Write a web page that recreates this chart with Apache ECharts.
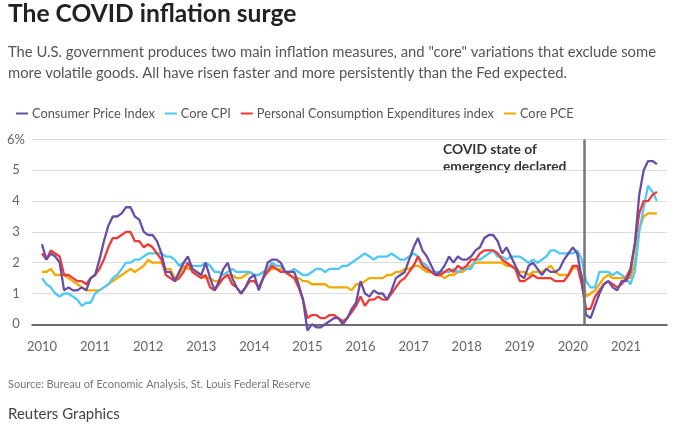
<!DOCTYPE html>
<html>
<head>
<meta charset="utf-8">
<script src="https://cdn.jsdelivr.net/npm/echarts@6/dist/echarts.min.js"></script>
<style>
  html, body { margin: 0; padding: 0; background: #fff; }
  #chart { width: 688px; height: 427px; }
</style>
</head>
<body>
<div id="chart"></div>
<script>
// monthly year-over-year % change, Jan 2010 .. Aug 2021
const startYear = 2010;
const yearTicks = [2010, 2011, 2012, 2013, 2014, 2015, 2016, 2017, 2018, 2019, 2020, 2021];
const yTicks = [0, 1, 2, 3, 4, 5, 6];
const covidMonth = 2020 + 2.5 / 12; // mid March 2020

const cpi = [
  2.6, 2.1, 2.3, 2.2, 2.0, 1.1, 1.2, 1.1, 1.1, 1.2, 1.1, 1.5,
  1.6, 2.1, 2.7, 3.2, 3.5, 3.5, 3.6, 3.8, 3.8, 3.5, 3.4, 3.0,
  2.9, 2.9, 2.7, 2.3, 1.7, 1.7, 1.4, 1.7, 2.0, 2.2, 1.8, 1.7,
  1.6, 2.0, 1.5, 1.1, 1.4, 1.8, 2.0, 1.5, 1.2, 1.0, 1.2, 1.5,
  1.6, 1.1, 1.5, 2.0, 2.1, 2.1, 2.0, 1.7, 1.7, 1.7, 1.3, 0.8,
  -0.2, 0.0, -0.1, -0.1, 0.0, 0.1, 0.2, 0.2, 0.0, 0.2, 0.5, 0.7,
  1.4, 1.0, 0.9, 1.1, 1.0, 1.0, 0.8, 1.1, 1.5, 1.6, 1.7, 2.1,
  2.5, 2.8, 2.4, 2.2, 1.9, 1.6, 1.7, 1.9, 2.2, 2.0, 2.2, 2.1,
  2.1, 2.2, 2.4, 2.5, 2.8, 2.9, 2.9, 2.7, 2.3, 2.5, 2.2, 1.9,
  1.6, 1.5, 1.9, 2.0, 1.8, 1.6, 1.8, 1.7, 1.7, 1.8, 2.1, 2.3,
  2.5, 2.3, 1.5, 0.3, 0.2, 0.6, 1.0, 1.3, 1.4, 1.2, 1.1, 1.4,
  1.4, 1.7, 2.6, 4.2, 5.0, 5.3, 5.3, 5.2
];
const coreCpi = [
  1.5, 1.3, 1.2, 1.0, 0.9, 1.0, 1.0, 0.9, 0.8, 0.6, 0.7, 0.7,
  1.0, 1.1, 1.2, 1.3, 1.5, 1.6, 1.8, 2.0, 2.0, 2.1, 2.1, 2.2,
  2.3, 2.3, 2.3, 2.3, 2.2, 2.2, 2.1, 1.9, 2.0, 2.0, 1.9, 1.9,
  1.9, 2.0, 1.9, 1.7, 1.7, 1.6, 1.7, 1.8, 1.7, 1.7, 1.7, 1.7,
  1.6, 1.6, 1.7, 1.8, 2.0, 1.9, 1.9, 1.7, 1.7, 1.8, 1.7, 1.6,
  1.6, 1.7, 1.8, 1.8, 1.7, 1.8, 1.8, 1.8, 1.9, 1.9, 2.0, 2.1,
  2.2, 2.3, 2.2, 2.1, 2.2, 2.2, 2.2, 2.3, 2.2, 2.1, 2.1, 2.2,
  2.3, 2.2, 2.0, 1.9, 1.7, 1.7, 1.7, 1.7, 1.7, 1.8, 1.7, 1.8,
  1.8, 1.8, 2.1, 2.1, 2.2, 2.3, 2.4, 2.2, 2.2, 2.1, 2.2, 2.2,
  2.2, 2.1, 2.0, 2.1, 2.0, 2.1, 2.2, 2.4, 2.4, 2.3, 2.3, 2.3,
  2.3, 2.4, 2.1, 1.4, 1.2, 1.2, 1.7, 1.7, 1.7, 1.6, 1.7, 1.6,
  1.5, 1.3, 1.7, 3.0, 3.8, 4.5, 4.3, 4.0
];
const pce = [
  2.3, 2.1, 2.4, 2.3, 2.2, 1.6, 1.6, 1.5, 1.4, 1.4, 1.3, 1.5,
  1.6, 1.8, 2.1, 2.5, 2.8, 2.8, 2.9, 3.0, 3.0, 2.7, 2.7, 2.5,
  2.6, 2.5, 2.3, 2.1, 1.6, 1.5, 1.4, 1.5, 1.7, 2.0, 1.7, 1.6,
  1.5, 1.6, 1.2, 1.1, 1.3, 1.5, 1.6, 1.3, 1.2, 1.0, 1.2, 1.4,
  1.4, 1.2, 1.5, 1.7, 1.9, 1.8, 1.7, 1.7, 1.6, 1.5, 1.2, 0.8,
  0.2, 0.3, 0.3, 0.2, 0.2, 0.3, 0.3, 0.2, 0.1, 0.2, 0.4, 0.6,
  0.9, 0.6, 0.8, 0.8, 0.9, 0.8, 0.8, 1.0, 1.2, 1.4, 1.5, 1.7,
  1.9, 2.2, 1.9, 1.8, 1.7, 1.6, 1.6, 1.7, 1.8, 1.7, 1.9, 1.8,
  1.9, 2.1, 2.1, 2.3, 2.4, 2.4, 2.4, 2.3, 2.1, 2.0, 1.9, 1.8,
  1.4, 1.4, 1.5, 1.6, 1.5, 1.5, 1.5, 1.5, 1.4, 1.4, 1.4, 1.6,
  1.9, 1.9, 1.3, 0.5, 0.5, 0.9, 1.1, 1.3, 1.4, 1.3, 1.2, 1.3,
  1.5, 1.8, 2.6, 3.6, 4.0, 4.0, 4.2, 4.3
];
const corePce = [
  1.7, 1.7, 1.8, 1.6, 1.6, 1.6, 1.5, 1.4, 1.3, 1.2, 1.1, 1.1,
  1.1, 1.1, 1.2, 1.3, 1.4, 1.5, 1.6, 1.7, 1.8, 1.7, 1.8, 1.9,
  2.1, 2.0, 2.0, 2.0, 1.8, 1.8, 1.5, 1.6, 1.9, 1.8, 1.8, 1.7,
  1.6, 1.5, 1.5, 1.4, 1.4, 1.5, 1.6, 1.6, 1.5, 1.5, 1.6, 1.7,
  1.6, 1.6, 1.7, 1.7, 1.8, 1.8, 1.8, 1.7, 1.6, 1.5, 1.5, 1.4,
  1.4, 1.3, 1.3, 1.3, 1.3, 1.2, 1.2, 1.2, 1.2, 1.2, 1.1, 1.3,
  1.3, 1.4, 1.5, 1.5, 1.5, 1.5, 1.6, 1.6, 1.7, 1.7, 1.8, 1.8,
  1.9, 1.9, 1.8, 1.7, 1.7, 1.6, 1.6, 1.5, 1.6, 1.6, 1.7, 1.7,
  1.8, 1.9, 2.0, 2.0, 2.0, 2.0, 2.0, 2.0, 2.0, 1.9, 1.9, 1.8,
  1.7, 1.7, 1.6, 1.7, 1.7, 1.7, 1.8, 1.9, 1.7, 1.6, 1.6, 1.6,
  1.8, 1.9, 1.6, 0.9, 1.0, 1.1, 1.3, 1.5, 1.6, 1.5, 1.5, 1.5,
  1.5, 1.5, 2.0, 3.1, 3.5, 3.6, 3.6, 3.6
];

const FONT = 'Lato';

function toPairs(values) {
  return values.map((v, i) => [startYear + i / 12, v]);
}

function lineSeries(name, values, color, extra) {
  return Object.assign({
    name: name,
    type: 'line',
    data: toPairs(values),
    showSymbol: false,
    clip: false,
    lineStyle: { color: color, width: 2.3 },
    itemStyle: { color: color },
    emphasis: { disabled: true }
  }, extra || {});
}

const chart = echarts.init(document.getElementById('chart'));
chart.setOption({
  animation: false,
  textStyle: { fontFamily: FONT },
  grid: { left: 32, right: 21, top: 139.5, bottom: 102.7 },
  legend: {
    left: 11,
    top: 102,
    icon: 'rect',
    itemWidth: 12,
    itemHeight: 2,
    itemGap: 10,
    textStyle: { fontFamily: FONT, fontSize: 12.8, color: '#555', padding: [0, 0, 0, -1] },
    data: ['Consumer Price Index', 'Core CPI', 'Personal Consumption Expenditures index', 'Core PCE']
  },
  xAxis: {
    type: 'value',
    min: 2009.812,
    max: 2021.773,
    axisLine: { show: true, lineStyle: { color: '#444', width: 1.5 } },
    axisTick: { show: false },
    splitLine: { show: false },
    axisLabel: {
      customValues: yearTicks,
      formatter: v => String(Math.round(v)),
      color: '#666',
      fontSize: 13,
      margin: 16
    }
  },
  yAxis: {
    type: 'value',
    min: 0,
    max: 6,
    interval: 1,
    axisLine: { show: false },
    axisTick: { show: false },
    splitLine: { lineStyle: { color: '#ddd', width: 1.2 } },
    axisLabel: {
      formatter: v => (v === yTicks[yTicks.length - 1] ? v + '%' : String(v)),
      color: '#666',
      fontSize: 13,
      align: 'center',
      margin: 16
    }
  },
  series: [
    lineSeries('Core PCE', corePce, '#f5a800'),
    lineSeries('Core CPI', coreCpi, '#4fc8f5'),
    lineSeries('Personal Consumption Expenditures index', pce, '#f03a35'),
    lineSeries('Consumer Price Index', cpi, '#6a4ea6', {
      markLine: {
        silent: true,
        symbol: 'none',
        label: { show: false },
        lineStyle: { color: '#777', width: 2.5, type: 'solid' },
        data: [{ xAxis: covidMonth }]
      }
    })
  ],
  graphic: [
    {
      type: 'text', left: 8, top: 2,
      style: { text: 'The COVID inflation surge', fontFamily: FONT, fontSize: 24.6, fontWeight: 'bold', fill: '#222' }
    },
    {
      type: 'text', left: 8, top: 42,
      style: {
        text: 'The U.S. government produces two main inflation measures, and "core" variations that exclude some\nmore volatile goods. All have risen faster and more persistently than the Fed expected.',
        fontFamily: FONT, fontSize: 14.8, lineHeight: 21, fill: '#555'
      }
    },
    {
      type: 'text', left: 443, top: 141,
      style: {
        text: 'COVID state of\nemergency declared',
        fontFamily: FONT, fontSize: 13.8, fontWeight: 'bold', lineHeight: 17, fill: '#333'
      }
    },
    {
      type: 'text', left: 8, top: 379,
      style: { text: 'Source: Bureau of Economic Analysis, St. Louis Federal Reserve', fontFamily: FONT, fontSize: 11, fill: '#777' }
    },
    {
      type: 'text', left: 8, top: 407,
      style: { text: 'Reuters Graphics', fontFamily: FONT, fontSize: 15, fill: '#444' }
    }
  ]
});
</script>
</body>
</html>
